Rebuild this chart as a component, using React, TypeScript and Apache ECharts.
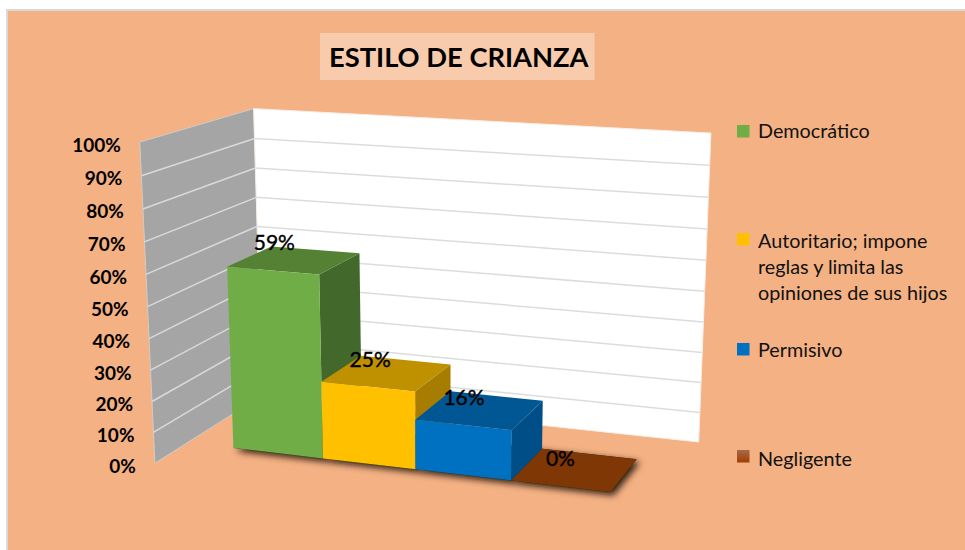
import React, { useEffect, useRef } from "react";
import * as echarts from "echarts";

const TITLE = "ESTILO DE CRIANZA";
const categories = ["Democrático", "Autoritario; impone reglas y limita las opiniones de sus hijos", "Permisivo", "Negligente"];
const values = [59, 25, 16, 0];
const yTicks = [0, 10, 20, 30, 40, 50, 60, 70, 80, 90, 100];
const legendLines = [["Democrático"], ["Autoritario; impone", "reglas y limita las", "opiniones de sus hijos"], ["Permisivo"], ["Negligente"]];
const legendTop = [125, 233, 343, 450];
const legendTextY = [130, 240, 348.5, 457.5];

const frontColors = ["#70AD47", "#FFC000", "#0070C0", "#7F3706"];
const topColors = ["#558135", "#BF9000", "#005794", "#7F3706"];
const sideColors = ["#43682B", "#A67D00", "#004E87", "#7F3706"];
const FONT = "Lato, Carlito, Calibri, sans-serif";

// Perspective of the 3D box: unit cube (across, up, depth) onto the page.
const M = 0.105;
const W0 = 0.28;
const W1 = 0.72;
const BAR_BACK = 0.695;
const wallAnchors: [number, number, number, number, number][] = [
  [0, 0, 1, 263, 396], [0, 1, 1, 254, 108], [1, 1, 1, 711, 133], [1, 0, 1, 698, 442],
  [0, 0, 0, 154, 463], [0, 1, 0, 140, 143],
];
const barAnchors: [number, number, number, number, number][] = [
  [0.1, 0, W0, 233, 444], [0.3, 0, W0, 322, 456], [0.5, 0, W0, 414, 468], [0.7, 0, W0, 511, 480],
  [0.9, 0, W0, 612, 493], [0.7, 0, W1, 540, 448], [0.9, 0, W1, 638, 458],
  [0.1, 0.59, W0, 228, 264], [0.3, 0.59, W0, 318, 272], [0.3, 0.59, W1, 357, 252], [0.1, 0.59, W1, 260, 248],
];

function solveCamera(): number[] {
  const rows: number[][] = [];
  const add = (list: typeof wallAnchors, weight: number) => {
    for (const [u, v, w, px, py] of list) {
      const x = px / 1000, y = py / 1000;
      rows.push([u, v, w, 1, 0, 0, 0, 0, -x * u, -x * v, -x * w, x].map((q) => q * weight));
      rows.push([0, 0, 0, 0, u, v, w, 1, -y * u, -y * v, -y * w, y].map((q) => q * weight));
    }
  };
  add(wallAnchors, 3);
  add(barAnchors, 1);
  const n = 11;
  const A: number[][] = [];
  for (let i = 0; i < n; i++) {
    A.push(new Array(n + 1).fill(0));
    for (let j = 0; j <= n; j++) for (const r of rows) A[i][j] += r[i] * r[j];
  }
  for (let c = 0; c < n; c++) {
    let p = c;
    for (let r = c + 1; r < n; r++) if (Math.abs(A[r][c]) > Math.abs(A[p][c])) p = r;
    [A[c], A[p]] = [A[p], A[c]];
    for (let r = 0; r < n; r++) {
      if (r === c) continue;
      const f = A[r][c] / A[c][c];
      for (let j = c; j <= n; j++) A[r][j] -= f * A[c][j];
    }
  }
  return A.map((r, i) => r[n] / r[i]);
}
const cam = solveCamera();
function project(u: number, v: number, w: number): number[] {
  const d = cam[8] * u + cam[9] * v + cam[10] * w + 1;
  return [
    (1000 * (cam[0] * u + cam[1] * v + cam[2] * w + cam[3])) / d,
    (1000 * (cam[4] * u + cam[5] * v + cam[6] * w + cam[7])) / d,
  ];
}

// Read a value through the chart's axes and turn it into box coordinates.
function boxCoords(params: any, api: any) {
  const cs = params.coordSys;
  const c = api.coord([api.value(0), api.value(1)]);
  const band = api.size([1, 0])[0];
  const span = 0.8;
  return {
    u0: M + (span * (c[0] - band / 2 - cs.x)) / cs.width,
    u1: M + (span * (c[0] + band / 2 - cs.x)) / cs.width,
    v: (cs.y + cs.height - c[1]) / cs.height,
  };
}
const poly = (points: number[][], style: any) => ({ type: "polygon", shape: { points }, style });

function renderWalls(params: any, api: any) {
  const { v } = boxCoords(params, api);
  const children: any[] = [];
  if (params.dataIndex === 0) {
    children.push(poly([project(0, 0, 0), project(0, 1, 0), project(0, 1, 1), project(0, 0, 1)], { fill: "#A5A5A5", stroke: "#D0CCC8", lineWidth: 1 }));
    children.push(poly([project(0, 0, 1), project(0, 1, 1), project(1, 1, 1), project(1, 0, 1)], { fill: "#FFFFFF", stroke: "#F6EEE8", lineWidth: 1 }));
  }
  const a = project(0, v, 0), b = project(0, v, 1), c = project(1, v, 1);
  if (v > 0 && v < 1) {
    children.push({ type: "line", shape: { x1: a[0], y1: a[1], x2: b[0], y2: b[1] }, style: { stroke: "#D9D9D9", lineWidth: 1.5 } });
    children.push({ type: "line", shape: { x1: b[0], y1: b[1], x2: c[0], y2: c[1] }, style: { stroke: "#DCDCDC", lineWidth: 1.5 } });
  }
  children.push({
    type: "text",
    x: a[0] - 19,
    y: a[1] + 2,
    style: { text: `${api.value(1)}%`, fill: "#000", font: `bold 19px ${FONT}`, align: "right", verticalAlign: "middle" },
  });
  return { type: "group", children };
}

function renderShadows(params: any, api: any) {
  const { u0, u1 } = boxCoords(params, api);
  return poly([project(u0, 0, W0), project(u1, 0, W0), project(u1, 0, BAR_BACK), project(u0, 0, BAR_BACK)], {
    fill: "#2a1c12",
    shadowBlur: 7,
    shadowColor: "rgba(20,10,0,0.95)",
    shadowOffsetX: 3,
    shadowOffsetY: 3,
  });
}

function renderBars(params: any, api: any) {
  const { u0, u1, v } = boxCoords(params, api);
  const i = params.dataIndex;
  const f = (u: number, h: number, w: number) => project(u, h, w);
  const mid = project((u0 + u1) / 2, v, (W0 + W1) / 2);
  return {
    type: "group",
    children: [
      poly([f(u1, 0, W0), f(u1, v, W0), f(u1, v, BAR_BACK), f(u1, 0, BAR_BACK)], { fill: sideColors[i] }),
      poly([f(u0, v, W0), f(u1, v, W0), f(u1, v, BAR_BACK), f(u0, v, BAR_BACK)], { fill: topColors[i] }),
      poly([f(u0, 0, W0), f(u1, 0, W0), f(u1, v, W0), f(u0, v, W0)], { fill: frontColors[i] }),
      {
        type: "text",
        x: mid[0] - 15.5 - 10 * v,
        y: mid[1] - 11.5 - 10 * v,
        style: { text: `${api.value(1)}%`, fill: "#000", stroke: "#000", lineWidth: 0.4, font: `21px ${FONT}`, align: "center", verticalAlign: "middle" },
      },
    ],
  };
}

export default function App() {
  const ref = useRef<HTMLDivElement>(null);
  useEffect(() => {
    document.body.style.margin = "0";
    const chart = echarts.init(ref.current!, null, { renderer: "svg" });
    const barData = values.map((v, i) => [i, v]);
    const legendGraphics: any[] = [];
    legendLines.forEach((lines, i) => {
      legendGraphics.push({
        type: "rect",
        shape: { x: 737, y: legendTop[i], width: 12.5, height: 12.5 },
        style: {
          fill:
            i === 3
              ? new echarts.graphic.LinearGradient(0, 0, 0, 1, [
                  { offset: 0, color: "#A9694A" },
                  { offset: 1, color: "#A03F00" },
                ])
              : frontColors[i],
        },
        z: 5,
      });
      lines.forEach((line, k) => {
        legendGraphics.push({
          type: "text",
          x: 758,
          y: legendTextY[i] + k * 26,
          style: { text: line, fill: "#111", font: `19.8px ${FONT}`, align: "left", verticalAlign: "middle" },
          z: 5,
        });
      });
    });
    chart.setOption({
      animation: false,
      backgroundColor: "#FFFFFF",
      title: {
        text: TITLE,
        left: 320,
        top: 33,
        padding: [10, 6, 10, 9],
        backgroundColor: "#F8CBAD",
        textStyle: { fontFamily: FONT, fontWeight: "bold", fontSize: 27.3, color: "#000" },
      },
      grid: { left: 150, right: 300, top: 110, bottom: 100, show: false },
      xAxis: { type: "category", data: categories, show: false },
      yAxis: { type: "value", min: 0, max: 100, interval: 10, show: false },
      graphic: [
        { type: "rect", z: -10, shape: { x: 7, y: 10, width: 965, height: 550 }, style: { fill: "#F4B183", stroke: "#D9D9D9", lineWidth: 2 } },
        ...legendGraphics,
      ],
      series: [
        { type: "custom", name: "Ejes", z: 1, silent: true, data: yTicks.map((t) => [0, t]), encode: { x: 0, y: 1 }, renderItem: renderWalls },
        { type: "custom", name: "Sombra", z: 2, silent: true, data: barData, encode: { x: 0, y: 1 }, renderItem: renderShadows },
        { type: "custom", name: "Estilo de crianza", z: 3, silent: true, data: barData, encode: { x: 0, y: 1 }, renderItem: renderBars },
      ],
    });
    return () => chart.dispose();
  }, []);
  return <div ref={ref} style={{ width: 965, height: 550 }} />;
}
